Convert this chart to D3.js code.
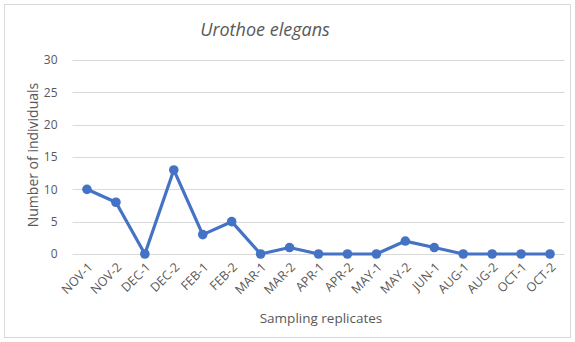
<!DOCTYPE html>
<html>
<head>
<meta charset="utf-8">
<script src="https://cdn.jsdelivr.net/npm/d3@7"></script>
<style>
  html, body { margin: 0; padding: 0; background: #fff; }
  svg { display: block; font-family: "Open Sans", "Liberation Sans", sans-serif; }
</style>
</head>
<body>
<svg id="chart" width="575" height="342"></svg>
<script>
// Sampling replicates and counts of Urothoe elegans
const categories = ["NOV-1","NOV-2","DEC-1","DEC-2","FEB-1","FEB-2","MAR-1","MAR-2",
  "APR-1","APR-2","MAY-1","MAY-2","JUN-1","AUG-1","AUG-2","OCT-1","OCT-2"];
const counts = [10, 8, 0, 13, 3, 5, 0, 1, 0, 0, 0, 2, 1, 0, 0, 0, 0];
const yTicks = [0, 5, 10, 15, 20, 25, 30];

const FONT = "'Open Sans', 'Liberation Sans', sans-serif";
const TEXT = "#595959";

const svg = d3.select("#chart");
const W = 575, H = 342;
const plot = { left: 72.5, right: 564.5, top: 60, bottom: 254 };

// outer frame
svg.append("rect")
  .attr("x", 4.5).attr("y", 4.5)
  .attr("width", W - 9).attr("height", H - 9)
  .attr("fill", "#fff").attr("stroke", "#d9d9d9").attr("stroke-width", 1);

const x = d3.scalePoint().domain(categories)
  .range([plot.left, plot.right]).padding(0.5);
const y = d3.scaleLinear().domain([0, 30]).range([plot.bottom, plot.top]);

// horizontal gridlines
svg.append("g").selectAll("line").data(yTicks).join("line")
  .attr("x1", plot.left).attr("x2", plot.right)
  .attr("y1", d => Math.round(y(d)) + 0.5).attr("y2", d => Math.round(y(d)) + 0.5)
  .attr("stroke", "#d9d9d9").attr("stroke-width", 1);

// y tick labels
const yAxis = d3.axisLeft(y).tickValues(yTicks).tickSize(0).tickPadding(0);
const gy = svg.append("g").attr("transform", `translate(${plot.left - 15},0)`).call(yAxis);
gy.select(".domain").remove();
gy.selectAll("text")
  .attr("fill", TEXT).style("font-size", "12px").style("font-family", FONT);

// x tick labels, rotated
const xAxis = d3.axisBottom(x).tickSize(0).tickPadding(0);
const gx = svg.append("g").attr("transform", `translate(0,${plot.bottom})`).call(xAxis);
gx.select(".domain").remove();
gx.selectAll("text")
  .attr("fill", TEXT).style("font-size", "12.5px").style("font-family", FONT)
  .attr("text-anchor", "end")
  .attr("dy", null).attr("y", 0)
  .attr("transform", "translate(6,14) rotate(-45)");

// line and markers
const line = d3.line().x((d, i) => x(categories[i])).y(d => y(d));
svg.append("path").datum(counts)
  .attr("d", line).attr("fill", "none")
  .attr("stroke", "#4472C4").attr("stroke-width", 3.2)
  .attr("stroke-linejoin", "round").attr("stroke-linecap", "round");
svg.append("g").selectAll("circle").data(counts).join("circle")
  .attr("cx", (d, i) => x(categories[i])).attr("cy", d => y(d))
  .attr("r", 4.8).attr("fill", "#4472C4");

// title
svg.append("text")
  .attr("x", 265).attr("y", 36).attr("text-anchor", "middle")
  .attr("fill", TEXT).style("font-size", "18px").style("font-style", "italic")
  .style("font-family", FONT)
  .text("Urothoe elegans");

// axis titles
svg.append("text")
  .attr("x", 321).attr("y", 323).attr("text-anchor", "middle")
  .attr("fill", TEXT).style("font-size", "13.5px").style("font-family", FONT)
  .text("Sampling replicates");
svg.append("text")
  .attr("transform", "translate(38,155) rotate(-90)").attr("text-anchor", "middle")
  .attr("fill", TEXT).style("font-size", "14px").style("font-family", FONT)
  .text("Number of individuals");
</script>
</body>
</html>
